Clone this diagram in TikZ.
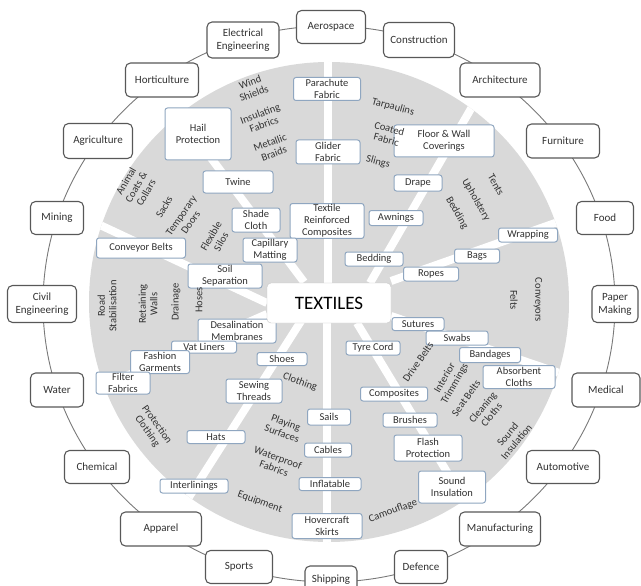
\documentclass[tikz,border=0pt]{standalone}
\usepackage{fontspec}
\setmainfont{Carlito}
\usetikzlibrary{positioning}
\definecolor{discgray}{RGB}{217,217,217}
\definecolor{ringgray}{RGB}{88,88,88}
\definecolor{itemblue}{RGB}{143,166,192}
\definecolor{inkgray}{RGB}{50,50,50}

\begin{document}
\begin{tikzpicture}[
        x=1pt, y=-1pt,
        sector/.style={rectangle, draw=ringgray, fill=white, rounded corners=5pt, line width=1.1pt, text=inkgray, font=\fontsize{11}{13}\selectfont, align=center, inner sep=1pt},
        item/.style={rectangle, draw=itemblue, fill=white, rounded corners=2.5pt, line width=1pt, text=inkgray, font=\fontsize{10.5}{12}\selectfont, align=center, inner sep=1pt},
        hub/.style={rectangle, draw=gray!45, fill=white, rounded corners=4pt, minimum width=124pt, minimum height=40pt, text=black, font=\fontsize{19}{22}\selectfont},
        enduse/.style={text=inkgray, font=\fontsize{10.5}{11.5}\selectfont, align=center, inner sep=0pt},
        spoke/.style={white, line width=8pt}
    ]
        \useasboundingbox (0,0) rectangle (641,586);

        % Disc and ring
        \fill[discgray] (329,302) circle[radius=240];
        \draw[ringgray!80, line width=0.9pt] (329,304) ellipse[x radius=286, y radius=278];

        % Spokes
        \begin{scope}
            \clip (329,302) circle[radius=240];
            \draw[spoke] (328,290) -- (328,50);
            \draw[spoke] (327,318) -- (327,560);
            \draw[spoke] (370,283) -- (476,100);
            \draw[spoke] (391,281) -- (575,216);
            \draw[spoke] (391,316) -- (580,380);
            \draw[spoke] (357,323) -- (470,510);
            \draw[spoke] (303,318) -- (182,508);
            \draw[spoke] (267,314) -- (90,392);
            \draw[spoke] (267,303) -- (85,218);
            \draw[spoke] (304,282) -- (172,106);
        \end{scope}

        % Industries
        \node[sector, minimum width=69pt, minimum height=33pt] (aero) at (331,27) {Aerospace};
        \node[sector, minimum width=72pt, minimum height=36pt] (elec) at (243,40) {Electrical\\Engineering};
        \node[sector, minimum width=71pt, minimum height=35pt] (constr) at (419,40) {Construction};
        \node[sector, minimum width=73pt, minimum height=34pt] (hort) at (162,80) {Horticulture};
        \node[sector, minimum width=80pt, minimum height=34pt] (arch) at (500,80) {Architecture};
        \node[sector, minimum width=69pt, minimum height=35pt] (agri) at (98,141) {Agriculture};
        \node[sector, minimum width=73pt, minimum height=34pt] (furn) at (563,141) {Furniture};
        \node[sector, minimum width=53pt, minimum height=33pt] (mining) at (57,218) {Mining};
        \node[sector, minimum width=57pt, minimum height=33pt] (food) at (605,218) {Food};
        \node[sector, minimum width=69pt, minimum height=37pt] (civil) at (42,304) {Civil\\Engineering};
        \node[sector, minimum width=46pt, minimum height=37pt] (paper) at (615,304) {Paper\\Making};
        \node[sector, minimum width=53pt, minimum height=34pt] (water) at (57,390) {Water};
        \node[sector, minimum width=68pt, minimum height=34pt] (medical) at (606,390) {Medical};
        \node[sector, minimum width=65pt, minimum height=33pt] (chem) at (97,467) {Chemical};
        \node[sector, minimum width=73pt, minimum height=33pt] (auto) at (563,467) {Automotive};
        \node[sector, minimum width=81pt, minimum height=34pt] (apparel) at (161,529) {Apparel};
        \node[sector, minimum width=81pt, minimum height=34pt] (manuf) at (500,529) {Manufacturing};
        \node[sector, minimum width=67pt, minimum height=33pt] (sports) at (239,567) {Sports};
        \node[sector, minimum width=52pt, minimum height=28pt] (shipping) at (331,580) {Shipping};
        \node[sector, minimum width=53pt, minimum height=33pt] (defence) at (421,567) {Defence};

        % Products, top
        \node[item, minimum width=67pt, minimum height=23pt] (parachute) at (327,89) {Parachute\\Fabric};
        \node[item, minimum width=64pt, minimum height=24pt] (glider) at (328,152) {Glider\\Fabric};
        \node[item, minimum width=74pt, minimum height=34pt] (trc) at (327,221) {Textile\\Reinforced\\Composites};
        \node[item, minimum width=66pt, minimum height=52pt] (hail) at (198,134) {Hail\\Protection};
        \node[item, minimum width=70pt, minimum height=22pt] (twine) at (238,182) {Twine};
        \node[item, minimum width=48pt, minimum height=24pt] (shade) at (256,220) {Shade\\Cloth};
        \node[item, minimum width=54pt, minimum height=24pt] (capillary) at (270,250) {Capillary\\Matting};
        \node[item, minimum width=74pt, minimum height=24pt] (soil) at (225,276) {Soil\\Separation};
        \node[item, minimum width=89pt, minimum height=20pt] (conveyor) at (141,248) {Conveyor Belts};
        \node[item, minimum width=100pt, minimum height=32pt] (floor) at (444,141) {Floor \& Wall\\Coverings};
        \node[item, minimum width=48pt, minimum height=16pt] (drape) at (418,183) {Drape};
        \node[item, minimum width=54pt, minimum height=15pt] (awnings) at (396,218) {Awnings};
        \node[item, minimum width=58pt, minimum height=14pt] (bedding) at (374,259) {Bedding};
        \node[item, minimum width=55pt, minimum height=14pt] (ropes) at (431,274) {Ropes};
        \node[item, minimum width=45pt, minimum height=14pt] (bags) at (477,256) {Bags};
        \node[item, minimum width=59pt, minimum height=14pt] (wrapping) at (528,235) {Wrapping};

        % Products, bottom
        \node[item, minimum width=52pt, minimum height=13pt] (sutures) at (418,324) {Sutures};
        \node[item, minimum width=62pt, minimum height=14pt] (swabs) at (457,338) {Swabs};
        \node[item, minimum width=61pt, minimum height=15pt] (bandages) at (490,355) {Bandages};
        \node[item, minimum width=72pt, minimum height=23pt] (absorbent) at (519,377) {Absorbent\\Cloths};
        \node[item, minimum width=54pt, minimum height=14pt] (tyre) at (373,348) {Tyre Cord};
        \node[item, minimum width=67pt, minimum height=14pt] (composites) at (394,394) {Composites};
        \node[item, minimum width=54pt, minimum height=14pt] (brushes) at (410,420) {Brushes};
        \node[item, minimum width=68pt, minimum height=26pt] (flash) at (428,448) {Flash\\Protection};
        \node[item, minimum width=67pt, minimum height=32pt] (soundbox) at (452,487) {Sound\\Insulation};
        \node[item, minimum width=43pt, minimum height=16pt] (sails) at (329,417) {Sails};
        \node[item, minimum width=47pt, minimum height=14pt] (cables) at (328,450) {Cables};
        \node[item, minimum width=62pt, minimum height=13pt] (inflatable) at (330,484) {Inflatable};
        \node[item, minimum width=70pt, minimum height=25pt] (hovercraft) at (327,526) {Hovercraft\\Skirts};
        \node[item, minimum width=78pt, minimum height=24pt] (desal) at (237,331) {Desalination\\Membranes};
        \node[item, minimum width=65pt, minimum height=12pt] (vat) at (204,347) {Vat Liners};
        \node[item, minimum width=59pt, minimum height=23pt] (fashion) at (160,362) {Fashion\\Garments};
        \node[item, minimum width=54pt, minimum height=22pt] (filter) at (123,383) {Filter\\Fabrics};
        \node[item, minimum width=50pt, minimum height=13pt] (shoes) at (282,359) {Shoes};
        \node[item, minimum width=56pt, minimum height=24pt] (sewing) at (254,391) {Sewing\\Threads};
        \node[item, minimum width=58pt, minimum height=13pt] (hats) at (216,437) {Hats};
        \node[item, minimum width=68pt, minimum height=14pt] (interlinings) at (194,486) {Interlinings};

        % End uses
        \node[enduse, rotate=20] (windshields) at (252,88) {Wind\\Shields};
        \node[enduse, rotate=20] (insulating) at (262,119) {Insulating\\Fabrics};
        \node[enduse, rotate=20] (metallic) at (272,148) {Metallic\\Braids};
        \node[enduse, rotate=-15] (tarpaulins) at (393,107) {Tarpaulins};
        \node[enduse, rotate=-15] (coated) at (388,134) {Coated\\Fabric};
        \node[enduse, rotate=-15] (slings) at (378,162) {Slings};
        \node[enduse, rotate=-60] (tents) at (496,185) {Tents};
        \node[enduse, rotate=-60] (upholstery) at (476,200) {Upholstery};
        \node[enduse, rotate=-60] (beddinguse) at (457,213) {Bedding};
        \node[enduse, rotate=-90] (conveyors) at (538,300) {Conveyors};
        \node[enduse, rotate=-90] (felts) at (514,300) {Felts};
        \node[enduse, rotate=55] (drivebelts) at (418,362) {Drive Belts};
        \node[enduse, rotate=60] (interior) at (450,381) {Interior\\Trimmings};
        \node[enduse, rotate=55] (seatbelts) at (466,398) {Seat Belts};
        \node[enduse, rotate=50] (cleaning) at (487,411) {Cleaning\\Cloths};
        \node[enduse, rotate=50] (sounduse) at (512,438) {Sound\\Insulation};
        \node[enduse, rotate=20] (camouflage) at (393,511) {Camouflage};
        \node[enduse, rotate=-20] (clothing) at (300,382) {Clothing};
        \node[enduse, rotate=-20] (playing) at (284,428) {Playing\\Surfaces};
        \node[enduse, rotate=-20] (waterproof) at (276,463) {Waterproof\\Fabrics};
        \node[enduse, rotate=-20] (equipment) at (260,502) {Equipment};
        \node[enduse, rotate=-55] (protection) at (152,428) {Protection\\Clothing};
        \node[enduse, rotate=90] (road) at (107,306) {Road\\Stabilisation};
        \node[enduse, rotate=90] (retaining) at (148,304) {Retaining\\Walls};
        \node[enduse, rotate=90] (drainage) at (176,302) {Drainage};
        \node[enduse, rotate=90] (hoses) at (199,300) {Hoses};
        \node[enduse, rotate=60] (animal) at (136,187) {Animal\\Coats \&\\Collars};
        \node[enduse, rotate=60] (sacks) at (164,207) {Sacks};
        \node[enduse, rotate=55] (temporary) at (186,219) {Temporary\\Doors};
        \node[enduse, rotate=60] (flexible) at (216,239) {Flexible\\Silos};

        % Centre
        \node[hub] (textiles) at (329,303) {TEXTILES};

    \end{tikzpicture}
\end{document}
